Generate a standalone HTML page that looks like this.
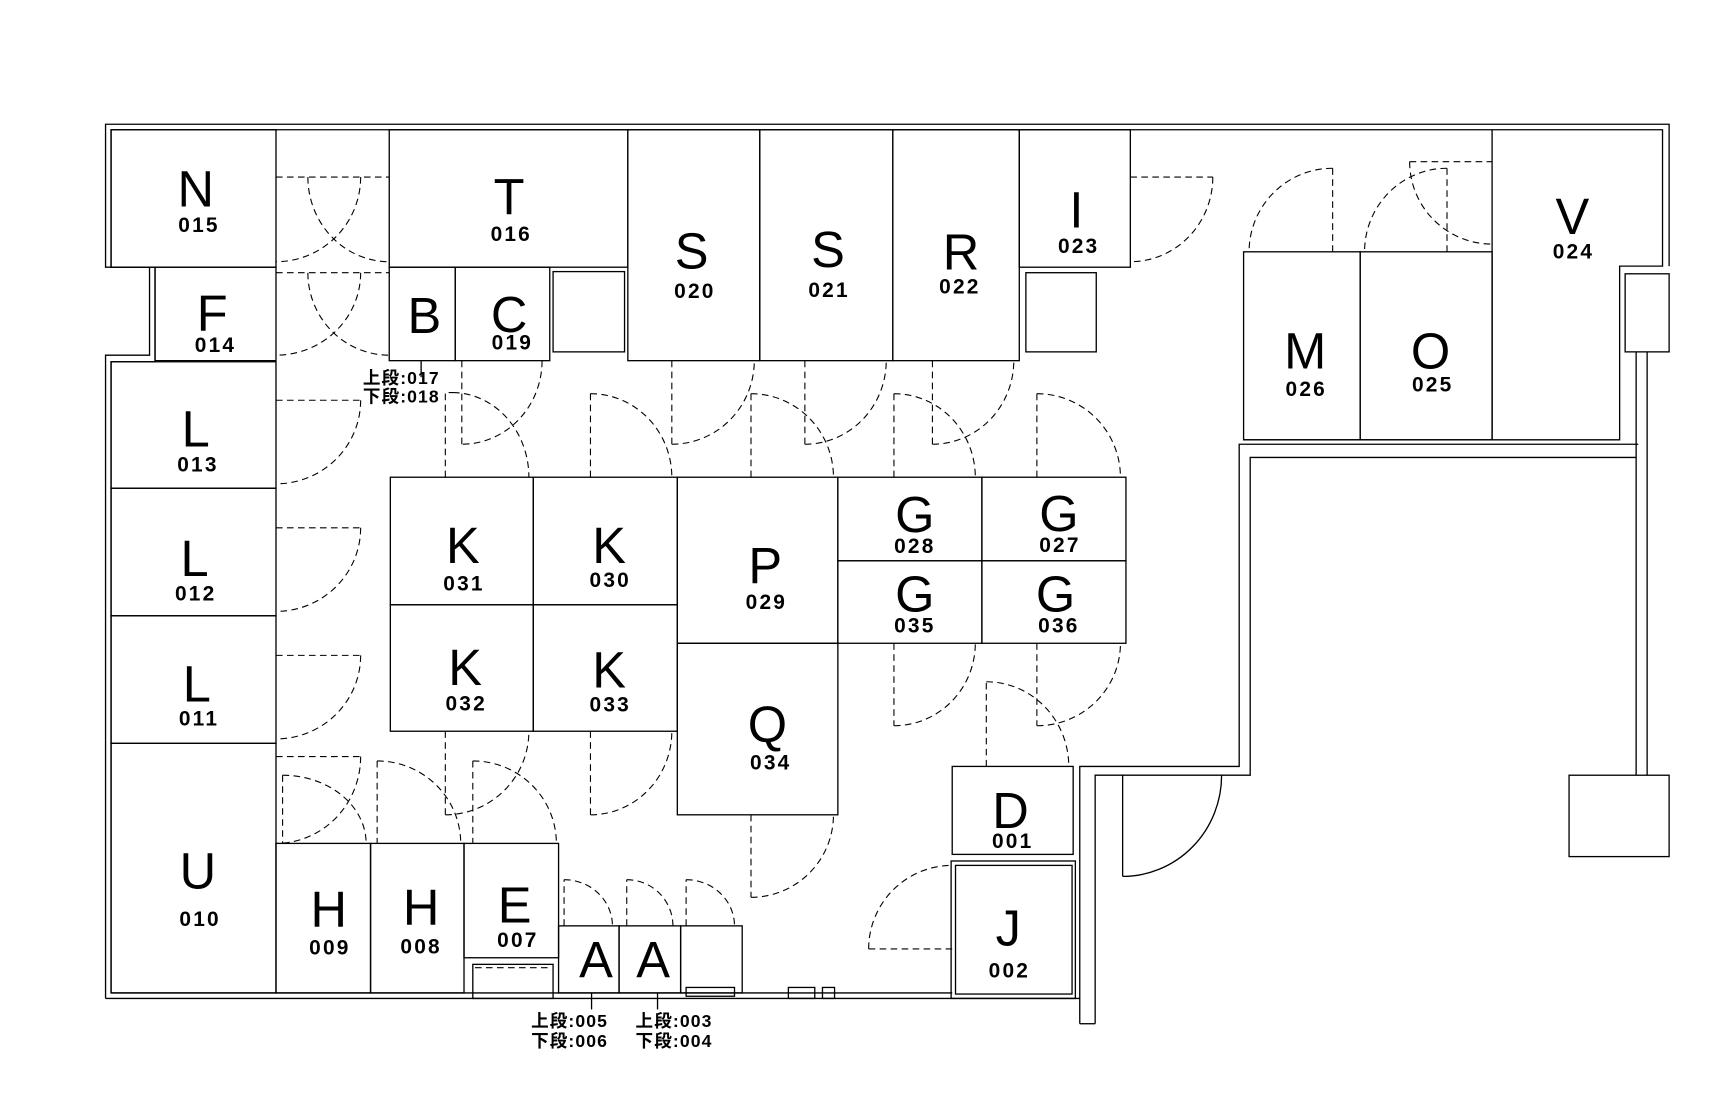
<!DOCTYPE html>
<html><head><meta charset="utf-8"><style>
html,body{margin:0;padding:0;background:#fff;}
svg{display:block}
text{font-family:"Liberation Sans","Noto Sans CJK JP",sans-serif;fill:#000;text-anchor:middle}
.L{font-size:46px}
.n{font-size:19px;font-weight:bold;letter-spacing:2px}
.s{font-size:16px;text-anchor:start;letter-spacing:1px;font-weight:bold}
</style></head><body>
<svg width="1723" height="1115" viewBox="0 0 1567 1014" preserveAspectRatio="none" xmlns="http://www.w3.org/2000/svg">
<g fill="none" stroke="#000" stroke-width="1.2">
<polyline points="96,908 96,323 136,323 136,243 96,243 96,113 1518,113 1518,242"/>
<polyline points="101,903 101,329 141,329 141,243 101,243 101,118 1512,118 1512,242 1473,242 1473,400 1131,400"/>
<line x1="96" y1="908" x2="982" y2="908"/>
<line x1="101" y1="903" x2="866" y2="903"/>
<polyline points="982,931 982,697 1127,697 1127,404 1490,404"/>
<polyline points="996,931 996,705 1137,705 1137,416 1488,416"/>
<line x1="982" y1="931" x2="996" y2="931"/>
<line x1="1488" y1="320" x2="1488" y2="705"/>
<line x1="1498" y1="320" x2="1498" y2="705"/>
<rect x="1478" y="249" width="40" height="71"/>
<rect x="1427" y="705" width="91" height="74"/>
<rect x="101" y="118" width="150" height="125"/>
<rect x="141" y="243" width="110" height="85"/>
<rect x="101" y="329" width="150" height="115"/>
<rect x="101" y="444" width="150" height="116"/>
<rect x="101" y="560" width="150" height="116"/>
<rect x="101" y="676" width="150" height="227"/>
<rect x="251" y="767" width="86" height="136"/>
<rect x="337" y="767" width="85" height="136"/>
<rect x="422" y="767" width="86" height="104"/>
<rect x="430" y="877" width="73" height="31"/>
<rect x="508" y="842" width="55" height="61"/>
<rect x="563" y="842" width="56" height="61"/>
<rect x="619" y="842" width="56" height="61"/>
<rect x="624" y="898" width="44" height="8"/>
<rect x="354" y="118" width="217" height="125"/>
<rect x="354" y="243" width="60" height="85"/>
<rect x="414" y="243" width="86" height="85"/>
<rect x="503" y="247" width="65" height="73"/>
<rect x="571" y="118" width="120" height="210"/>
<rect x="691" y="118" width="121" height="210"/>
<rect x="812" y="118" width="115" height="210"/>
<rect x="927" y="118" width="101" height="125"/>
<rect x="933" y="248" width="64" height="72"/>
<rect x="1131" y="229" width="106" height="171"/>
<rect x="1237" y="229" width="120" height="171"/>
<line x1="1357" y1="118" x2="1357" y2="400"/>
<rect x="355" y="434" width="130" height="116"/>
<rect x="485" y="434" width="131" height="116"/>
<rect x="355" y="550" width="130" height="115"/>
<rect x="485" y="550" width="131" height="115"/>
<rect x="616" y="434" width="146" height="151"/>
<rect x="616" y="585" width="146" height="156"/>
<rect x="762" y="434" width="131" height="76"/>
<rect x="893" y="434" width="131" height="76"/>
<rect x="762" y="510" width="131" height="75"/>
<rect x="893" y="510" width="131" height="75"/>
<rect x="866" y="697" width="110" height="80"/>
<rect x="865" y="783" width="113" height="125"/>
<rect x="869" y="787" width="106" height="117"/>
<rect x="717" y="898" width="24" height="10"/>
<rect x="748" y="898" width="11" height="10"/>
<line x1="383" y1="328" x2="383" y2="343"/>
<line x1="538" y1="903" x2="538" y2="918"/>
<line x1="598" y1="903" x2="598" y2="918"/>
</g>
<g fill="none" stroke="#000" stroke-width="1" stroke-dasharray="6,4">
<line x1="251" y1="161" x2="354" y2="161"/>
<path d="M280,161 A74,77 0 0 0 354,238"/><path d="M328,161 A77,77 0 0 1 251,238"/>
<line x1="251" y1="248" x2="354" y2="248"/>
<path d="M280,248 A74,75 0 0 0 354,323"/><path d="M328,248 A77,75 0 0 1 251,323"/>
<polyline points="251,364 328,364"/><path d="M328,364 A77,76 0 0 1 251,440"/>
<polyline points="251,480 328,480"/><path d="M328,480 A77,76 0 0 1 251,556"/>
<polyline points="251,596 328,596"/><path d="M328,596 A77,76 0 0 1 251,672"/>
<polyline points="251,688 328,688"/>
<line x1="257" y1="705" x2="257" y2="767"/><path d="M257,705 A76,62 0 0 1 333,767"/><path d="M328,688 A77,79 0 0 1 251,767"/>
<line x1="343" y1="692" x2="343" y2="767"/><path d="M343,692 A76,75 0 0 1 419,767"/>
<line x1="430" y1="692" x2="430" y2="767"/><path d="M430,692 A76,75 0 0 1 506,767"/>
<polyline points="420,328 420,404"/><path d="M493,328 A73,76 0 0 1 420,404"/>
<polyline points="405,434 405,357 412,357"/><path d="M412,357 A70,77 0 0 1 481,434"/>
<polyline points="537,434 537,358"/><path d="M537,358 A74,76 0 0 1 611,434"/>
<polyline points="611,328 611,404"/><path d="M611,404 A75,76 0 0 0 686,328"/>
<polyline points="683,434 683,358"/><path d="M683,358 A75,76 0 0 1 758,434"/>
<polyline points="732,328 732,404"/><path d="M732,404 A74,76 0 0 0 806,328"/>
<polyline points="813,434 813,358"/><path d="M813,358 A74,76 0 0 1 887,434"/>
<polyline points="848,328 848,404"/><path d="M848,404 A74,76 0 0 0 922,328"/>
<polyline points="943,434 943,358"/><path d="M943,358 A76,76 0 0 1 1019,434"/>
<polyline points="1028,161 1103,161"/><path d="M1103,161 A75,77 0 0 1 1028,238"/>
<polyline points="1212,229 1212,153"/><path d="M1212,153 A76,76 0 0 0 1136,229"/>
<polyline points="1282,147 1357,147"/><path d="M1282,147 A75,75 0 0 0 1357,222"/>
<polyline points="1316,229 1316,153"/><path d="M1316,153 A75,76 0 0 0 1241,229"/>
<polyline points="813,585 813,660"/><path d="M813,660 A74,75 0 0 0 887,585"/>
<polyline points="943,585 943,660"/><path d="M943,660 A76,75 0 0 0 1019,585"/>
<polyline points="897,697 897,620"/><path d="M897,620 A75,77 0 0 1 972,697"/>
<polyline points="866,863 790,863"/><path d="M790,863 A76,76 0 0 1 866,787"/>
<polyline points="683,741 683,816"/><path d="M683,816 A75,75 0 0 0 758,741"/>
<polyline points="537,665 537,741"/><path d="M537,741 A74,76 0 0 0 611,665"/>
<polyline points="405,665 405,741"/><path d="M405,741 A76,76 0 0 0 481,665"/>
<polyline points="513,842 513,800"/><path d="M513,800 A44,42 0 0 1 557,842"/>
<polyline points="570,842 570,800"/><path d="M570,800 A42,42 0 0 1 612,842"/>
<polyline points="624,842 624,800"/><path d="M624,800 A44,42 0 0 1 668,842"/>
<line x1="432" y1="880" x2="501" y2="880"/>
</g>
<g fill="none" stroke="#000" stroke-width="1.2">
<polyline points="1021,705 1021,797"/><path d="M1021,797 A90,92 0 0 0 1111,705"/>
</g>
<g>
<text class="L" x="178" y="188">N</text><text class="n" x="181" y="211">015</text>
<text class="L" x="463" y="195">T</text><text class="n" x="465" y="219">016</text>
<text class="L" x="629" y="244">S</text><text class="n" x="632" y="271">020</text>
<text class="L" x="753" y="243">S</text><text class="n" x="754" y="270">021</text>
<text class="L" x="874" y="245">R</text><text class="n" x="873" y="267">022</text>
<text class="L" x="979" y="207">I</text><text class="n" x="981" y="230">023</text>
<text class="L" x="1430" y="213">V</text><text class="n" x="1431" y="235">024</text>
<text class="L" x="193" y="301">F</text><text class="n" x="196" y="320">014</text>
<text class="L" x="386" y="303">B</text>
<text class="L" x="463" y="302">C</text><text class="n" x="466" y="318">019</text>
<text class="L" x="1187" y="335">M</text><text class="n" x="1188" y="360">026</text>
<text class="L" x="1301" y="335">O</text><text class="n" x="1303" y="356">025</text>
<text class="L" x="178" y="406">L</text><text class="n" x="180" y="429">013</text>
<text class="L" x="177" y="524">L</text><text class="n" x="178" y="546">012</text>
<text class="L" x="179" y="638">L</text><text class="n" x="181" y="660">011</text>
<text class="L" x="421" y="512">K</text><text class="n" x="422" y="537">031</text>
<text class="L" x="554" y="512">K</text><text class="n" x="555" y="534">030</text>
<text class="L" x="696" y="530">P</text><text class="n" x="697" y="554">029</text>
<text class="L" x="832" y="484">G</text><text class="n" x="832" y="503">028</text>
<text class="L" x="963" y="483">G</text><text class="n" x="964" y="502">027</text>
<text class="L" x="832" y="556">G</text><text class="n" x="832" y="575">035</text>
<text class="L" x="960" y="556">G</text><text class="n" x="963" y="575">036</text>
<text class="L" x="423" y="623">K</text><text class="n" x="424" y="646">032</text>
<text class="L" x="554" y="625">K</text><text class="n" x="555" y="647">033</text>
<text class="L" x="698" y="675">Q</text><text class="n" x="701" y="700">034</text>
<text class="L" x="919" y="753">D</text><text class="n" x="921" y="771">001</text>
<text class="L" x="917" y="860">J</text><text class="n" x="918" y="889">002</text>
<text class="L" x="180" y="808">U</text><text class="n" x="182" y="842">010</text>
<text class="L" x="299" y="843">H</text><text class="n" x="300" y="868">009</text>
<text class="L" x="383" y="841">H</text><text class="n" x="383" y="867">008</text>
<text class="L" x="468" y="839">E</text><text class="n" x="471" y="861">007</text>
<text class="L" x="542" y="889">A</text>
<text class="L" x="594" y="889">A</text>
<text class="s" x="330" y="349">上段:017</text>
<text class="s" x="330" y="366">下段:018</text>
<text class="s" x="483" y="934">上段:005</text>
<text class="s" x="483" y="952">下段:006</text>
<text class="s" x="578" y="934">上段:003</text>
<text class="s" x="578" y="952">下段:004</text>
</g>
</svg>
</body></html>
